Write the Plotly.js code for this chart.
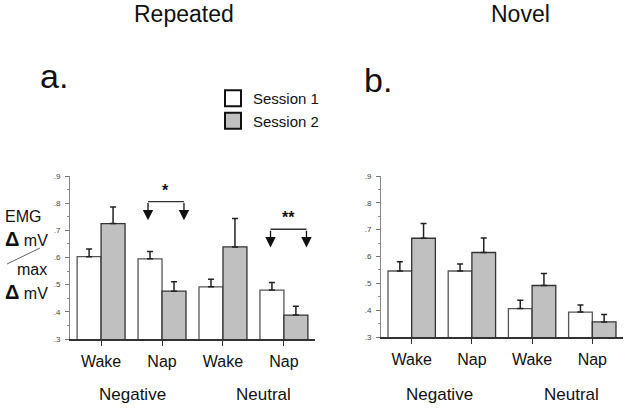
<!DOCTYPE html>
<html>
<head>
<meta charset="utf-8">
<script src="https://cdn.plot.ly/plotly-3.0.1.min.js"></script>
<style>html,body{margin:0;padding:0;background:#fff}#chart{width:628px;height:409px}</style>
</head>
<body>
<div id="chart"></div>
<script>
// ---- data ----
const conditions = ["Wake", "Nap", "Wake", "Nap"];
const positions = [0, 1, 2, 3];
const groupLabels = ["Negative", "Neutral"];
const seriesNames = ["Session 1", "Session 2"];

const repeatedS1 = [0.603, 0.595, 0.492, 0.480];
const repeatedS1Err = [0.028, 0.027, 0.028, 0.028];
const repeatedS2 = [0.725, 0.476, 0.639, 0.388];
const repeatedS2Err = [0.061, 0.035, 0.105, 0.033];

const novelS1 = [0.546, 0.546, 0.406, 0.393];
const novelS1Err = [0.034, 0.026, 0.031, 0.026];
const novelS2 = [0.668, 0.615, 0.492, 0.356];
const novelS2Err = [0.055, 0.054, 0.045, 0.028];

const yTickVals = [0.3, 0.4, 0.5, 0.6, 0.7, 0.8, 0.9];
const yTickText = [".3", ".4", ".5", ".6", ".7", ".8", ".9"];

// significance brackets (repeated panel): [xLeft, xRight, yBar, yTip, label]
const sigBrackets = [
  [0.77, 1.36, 0.806, 0.737, "*"],
  [2.78, 3.37, 0.704, 0.637, "**"]
];

// ---- build ----
const FONT = "Liberation Sans, Arial, Helvetica, sans-serif";
const fill = ["#ffffff", "#c0c0c0"];
const edge = ["#555555", "#333333"];

function bar(x, y, err, i, xa, ya) {
  return {
    type: "bar", x: x, y: y, name: seriesNames[i], legendgroup: "s" + i,
    xaxis: xa, yaxis: ya, showlegend: false,
    marker: {color: fill[i], line: {color: edge[i], width: 1.3}},
    error_y: {type: "data", array: err, arrayminus: err.map(() => 0), symmetric: false,
              color: "#222", thickness: 1.5, width: 3},
    hoverinfo: "skip"
  };
}
// legend entries (square swatches like the original key)
function key(i) {
  return {type: "scatter", mode: "markers", x: [null], y: [null], name: seriesNames[i], legendgroup: "s" + i,
    showlegend: true, marker: {symbol: "square", size: 16, color: fill[i], line: {color: "#111", width: 2}},
    hoverinfo: "skip"};
}

const data = [
  bar(positions, repeatedS1, repeatedS1Err, 0, "x", "y"),
  bar(positions, repeatedS2, repeatedS2Err, 1, "x", "y"),
  bar(positions, novelS1, novelS1Err, 0, "x2", "y2"),
  bar(positions, novelS2, novelS2Err, 1, "x2", "y2"),
  key(0), key(1)
];

function xax(domain) {
  return {
    domain: domain, range: [-0.51, 3.51], tickvals: positions, ticktext: conditions,
    ticks: "outside", ticklen: 5, tickcolor: "#333", tickwidth: 1,
    showline: true, linecolor: "#333", linewidth: 1.5,
    showgrid: false, zeroline: false, fixedrange: true,
    tickfont: {family: FONT, size: 16, color: "#111"}, ticklabelstandoff: 2
  };
}
function yax(domain, anchor) {
  return {
    domain: domain, range: [0.3, 0.9], anchor: anchor,
    tickvals: yTickVals, ticktext: yTickText,
    ticks: "outside", ticklen: 4, tickcolor: "#777", tickwidth: 1,
    minor: {dtick: 0.05, ticks: "outside", ticklen: 2, tickcolor: "#888", showgrid: false},
    showline: true, linecolor: "#888", linewidth: 1,
    showgrid: false, zeroline: false, fixedrange: true,
    tickfont: {family: FONT, size: 8, color: "#444"}, ticklabelstandoff: 3
  };
}

function paperText(text, xpx, ypx, size, xanchor) {
  return {text: text, xref: "paper", yref: "paper", x: xpx / 628, y: 1 - ypx / 409,
          xanchor: xanchor || "center", yanchor: "middle", showarrow: false,
          font: {family: FONT, size: size, color: "#111"}};
}

const delta = "<span style='font-size:20px'><b>Δ</b></span> mV";
const annotations = [
  paperText("Repeated", 183.5, 14, 23),
  paperText("Novel", 520, 14, 23),
  paperText("a.", 38, 76, 34, "left"),
  paperText("b.", 362, 80, 34, "left"),
  paperText("EMG", 3, 217, 16, "left"),
  paperText(delta, 3, 239, 16, "left"),
  paperText("max", 15, 269, 16, "left"),
  paperText(delta, 3, 292, 16, "left")
];

// group labels under both panels
[["x", 0.52, 2.67], ["x2", 0.46, 2.66]].forEach(([xr, a, b]) => {
  [[groupLabels[0], a], [groupLabels[1], b]].forEach(([t, xv]) => {
    annotations.push({text: t, xref: xr, yref: "paper", x: xv, y: 1 - 394/409, xanchor: "center", yanchor: "middle",
      showarrow: false, font: {family: FONT, size: 17, color: "#111"}});
  });
});

const shapes = [
  {type: "line", xref: "paper", yref: "paper", x0: 7/628, y0: 1 - 264/409, x1: 40/628, y1: 1 - 248/409, line: {color: "#666", width: 1}}
];

sigBrackets.forEach(([xl, xr, yb, yt, lab]) => {
  shapes.push({type: "line", xref: "x", yref: "y", x0: xl, x1: xr, y0: yb, y1: yb, line: {color: "#333", width: 1.3}});
  [xl, xr].forEach(xv => {
    annotations.push({x: xv, y: yt, ax: xv, ay: yb, xref: "x", yref: "y", axref: "x", ayref: "y",
      text: "", showarrow: true, arrowhead: 2, arrowsize: 1.6, arrowwidth: 1.3, arrowcolor: "#111", standoff: 0});
  });
  annotations.push({text: "<b>" + lab + "</b>", x: (xl + xr) / 2, y: yb, xref: "x", yref: "y",
    xanchor: "center", yanchor: "bottom", yshift: 1,
    showarrow: false, font: {family: FONT, size: 16, color: "#111"}});
});

const layout = {
  width: 628, height: 409,
  margin: {l: 0, r: 0, t: 0, b: 0},
  paper_bgcolor: "#fff", plot_bgcolor: "#fff",
  barmode: "group", bargap: 0.213, bargroupgap: 0,
  xaxis: Object.assign(xax([70/628, 315/628]), {anchor: "y"}),
  yaxis: yax([1 - 339/409, 1 - 176/409], "x"),
  xaxis2: Object.assign(xax([381/628, 623/628]), {anchor: "y2"}),
  yaxis2: yax([1 - 337/409, 1 - 176/409], "x2"),
  showlegend: true,
  legend: {x: 213/628, y: 1 - 82/409, xanchor: "left", yanchor: "top", bgcolor: "rgba(0,0,0,0)",
           font: {family: FONT, size: 15, color: "#111"}, tracegroupgap: 0, traceorder: "normal",
           itemsizing: "trace", itemwidth: 30},
  annotations: annotations,
  shapes: shapes
};

Plotly.newPlot("chart", data, layout, {displayModeBar: false, staticPlot: true});
</script>
</body>
</html>
